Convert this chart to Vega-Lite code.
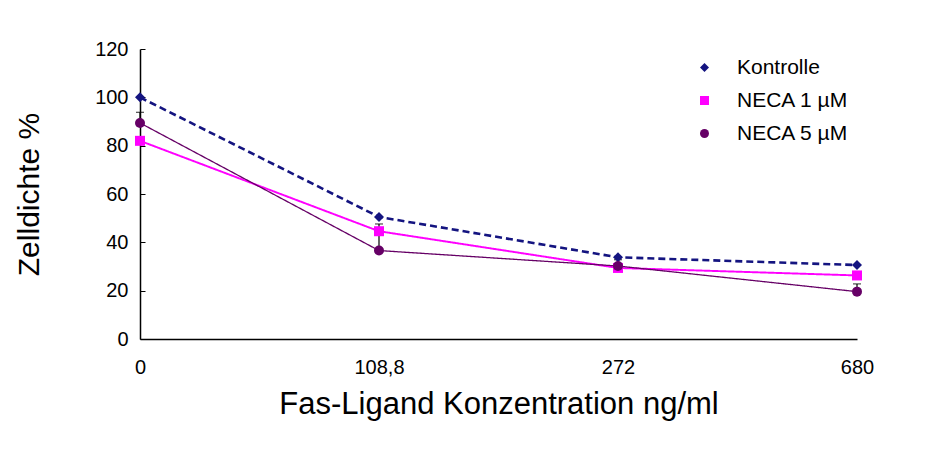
{
  "$schema": "https://vega.github.io/schema/vega-lite/v6.json",
  "width": 717,
  "height": 290,
  "autosize": {"type": "none"},
  "padding": {"left": 140, "top": 49, "right": 86, "bottom": 113},
  "background": "white",
  "config": {
    "view": {"stroke": null},
    "font": "Liberation Sans",
    "axis": {
      "labelFont": "Liberation Sans",
      "titleFont": "Liberation Sans",
      "labelColor": "black",
      "titleColor": "black",
      "titleFontWeight": "normal",
      "domainColor": "black",
      "domainWidth": 1.5,
      "tickColor": "black",
      "grid": false
    },
    "legend": {"labelFont": "Liberation Sans", "labelColor": "black"}
  },
  "data": {
    "values": [
      {"serie": "Kontrolle", "konz": "0", "wert": 100},
      {"serie": "Kontrolle", "konz": "108,8", "wert": 50.5},
      {"serie": "Kontrolle", "konz": "272", "wert": 33.8},
      {"serie": "Kontrolle", "konz": "680", "wert": 30.6},
      {"serie": "NECA 1 µM", "konz": "0", "wert": 82},
      {"serie": "NECA 1 µM", "konz": "108,8", "wert": 44.6},
      {"serie": "NECA 1 µM", "konz": "272", "wert": 29.4},
      {"serie": "NECA 1 µM", "konz": "680", "wert": 26.3},
      {"serie": "NECA 5 µM", "konz": "0", "wert": 89.4, "oben": 93.8},
      {"serie": "NECA 5 µM", "konz": "108,8", "wert": 36.6, "oben": 47.6},
      {"serie": "NECA 5 µM", "konz": "272", "wert": 30.2, "oben": 32.8},
      {"serie": "NECA 5 µM", "konz": "680", "wert": 19.6, "oben": 22.8}
    ]
  },
  "encoding": {
    "x": {
      "field": "konz",
      "type": "ordinal",
      "sort": ["0", "108,8", "272", "680"],
      "scale": {"type": "point", "padding": 0},
      "axis": {
        "title": "Fas-Ligand Konzentration ng/ml",
        "titleFontSize": 31,
        "titlePadding": 12,
        "labelFontSize": 20,
        "labelAngle": 0,
        "labelPadding": 18,
        "ticks": false
      }
    },
    "y": {
      "field": "wert",
      "type": "quantitative",
      "scale": {"domain": [0, 120], "nice": false},
      "axis": {
        "title": "Zelldichte %",
        "titleFontSize": 30,
        "titlePadding": 50,
        "labelFontSize": 20,
        "values": [0, 20, 40, 60, 80, 100, 120],
        "tickSize": -5,
        "labelPadding": 17
      }
    }
  },
  "resolve": {"legend": {"color": "independent", "shape": "independent"}},
  "layer": [
    {
      "transform": [{"filter": "isValid(datum.oben)"}],
      "mark": {
        "type": "errorbar",
        "color": "black",
        "ticks": {"size": 8, "color": "black", "thickness": 1.2},
        "rule": {"color": "black", "strokeWidth": 1.2}
      },
      "encoding": {
        "y": {"field": "wert", "type": "quantitative"},
        "y2": {"field": "oben"}
      }
    },
    {
      "mark": {"type": "line"},
      "encoding": {
        "color": {
          "field": "serie",
          "type": "nominal",
          "scale": {"domain": ["Kontrolle", "NECA 1 µM", "NECA 5 µM"], "range": ["#141480", "#ff00ff", "#660066"]},
          "legend": null
        },
        "strokeDash": {
          "field": "serie",
          "type": "nominal",
          "scale": {"domain": ["Kontrolle", "NECA 1 µM", "NECA 5 µM"], "range": [[7, 4], [1, 0], [1, 0]]},
          "legend": null
        },
        "strokeWidth": {
          "field": "serie",
          "type": "nominal",
          "scale": {"domain": ["Kontrolle", "NECA 1 µM", "NECA 5 µM"], "range": [2.6, 1.3, 1.3]},
          "legend": null
        }
      }
    },
    {
      "mark": {"type": "point", "filled": true, "opacity": 1, "size": 100},
      "encoding": {
        "shape": {
          "field": "serie",
          "type": "nominal",
          "scale": {"domain": ["Kontrolle", "NECA 1 µM", "NECA 5 µM"], "range": ["diamond", "square", "circle"]},
          "legend": null
        },
        "color": {
          "field": "serie",
          "type": "nominal",
          "scale": {"domain": ["Kontrolle", "NECA 1 µM", "NECA 5 µM"], "range": ["#141480", "#ff00ff", "#660066"]},
          "legend": {
            "title": null,
            "orient": "top-right",
            "offset": 8,
            "padding": 0,
            "labelFontSize": 21,
            "labelOffset": 22,
            "rowPadding": 11,
            "symbolSize": 81,
            "encode": {
              "symbols": {
                "shape": {"value": {"expr": "datum.value === 'Kontrolle' ? 'M-5,0H5M-1.15,0L0,-1.15L1.15,0L0,1.15Z' : datum.value === 'NECA 1 µM' ? 'M-5,0H5M-1,-1H1V1H-1Z' : 'M-5,0H5M1.1,0A1.1,1.1,0,1,1,-1.1,0A1.1,1.1,0,1,1,1.1,0Z'"}},
                "size": {"value": 81},
                "stroke": {"value": {"expr": "scale('color', datum.value)"}},
                "strokeWidth": {"value": {"expr": "datum.value === 'Kontrolle' ? 2.4 : 1.3"}},
                "strokeDash": {"value": {"expr": "datum.value === 'Kontrolle' ? [6, 3] : [1, 0]"}},
                "opacity": {"value": 1}
              }
            }
          }
        }
      }
    }
  ]
}
